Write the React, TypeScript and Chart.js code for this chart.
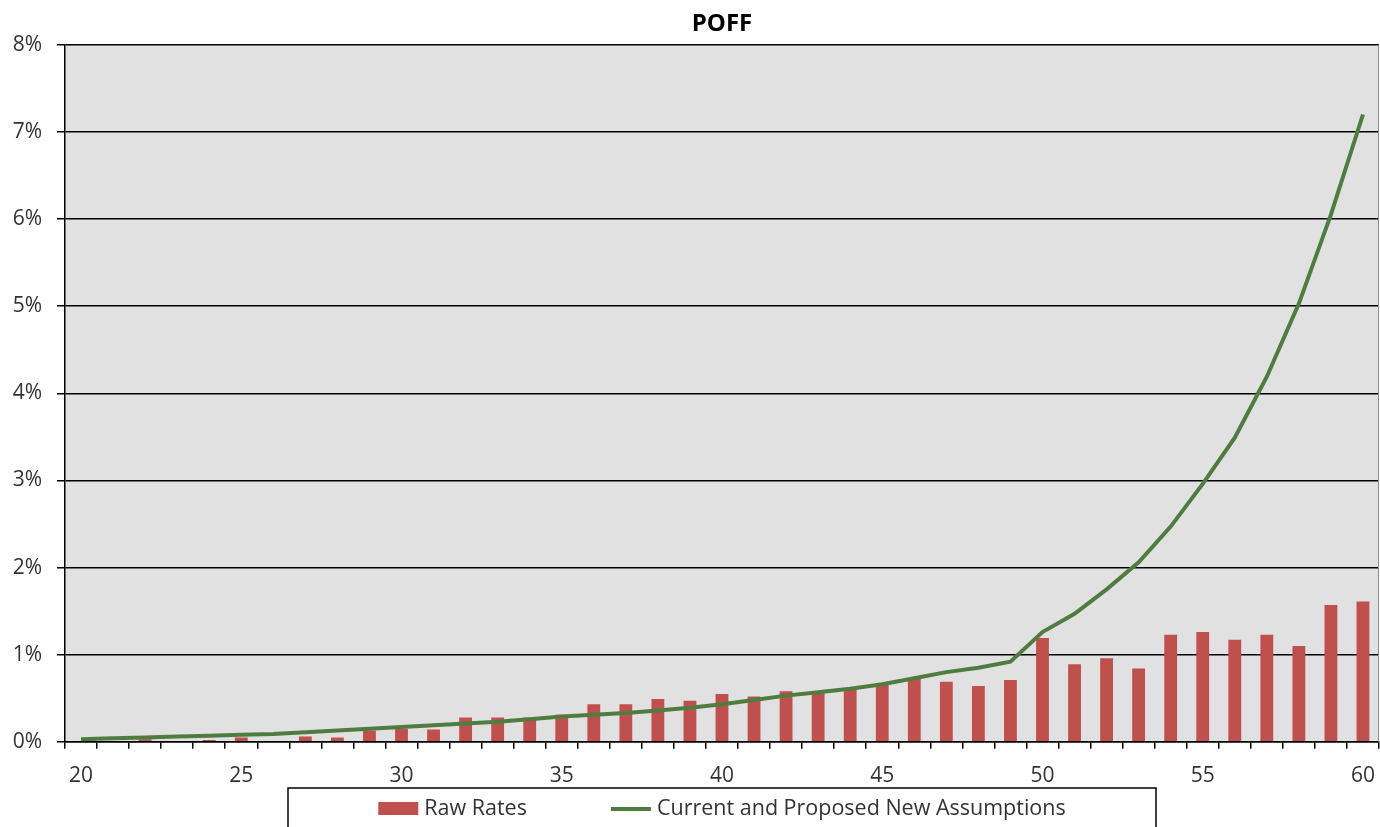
import React, { useEffect, useRef } from 'react';
import { Chart, registerables } from 'chart.js';

Chart.register(...registerables);

const ages: string[] = [
  '20', '21', '22', '23', '24', '25', '26', '27', '28', '29',
  '30', '31', '32', '33', '34', '35', '36', '37', '38', '39',
  '40', '41', '42', '43', '44', '45', '46', '47', '48', '49',
  '50', '51', '52', '53', '54', '55', '56', '57', '58', '59', '60',
];

// Raw Rates (%)
const rawRates: number[] = [
  0, 0, 0.03, 0, 0.02, 0.05, 0, 0.06, 0.05, 0.13,
  0.15, 0.14, 0.28, 0.28, 0.28, 0.31, 0.43, 0.43, 0.49, 0.47,
  0.55, 0.52, 0.58, 0.57, 0.61, 0.66, 0.73, 0.69, 0.64, 0.71,
  1.19, 0.89, 0.96, 0.84, 1.23, 1.26, 1.17, 1.23, 1.10, 1.57, 1.61,
];

// Current and Proposed New Assumptions (%)
const assumptions: number[] = [
  0.03, 0.04, 0.05, 0.06, 0.07, 0.08, 0.09, 0.11, 0.13, 0.15,
  0.17, 0.19, 0.21, 0.23, 0.26, 0.29, 0.31, 0.33, 0.36, 0.39,
  0.43, 0.48, 0.53, 0.57, 0.61, 0.66, 0.73, 0.80, 0.85, 0.92,
  1.26, 1.47, 1.75, 2.06, 2.47, 2.96, 3.49, 4.19, 5.03, 6.05, 7.2,
];

const yMin = 0;
const yMax = 8;
const yStep = 1;

const titleText = 'POFF';
const barLabel = 'Raw Rates';
const lineLabel = 'Current and Proposed New Assumptions';

const barColor = '#c0504d';
const lineColor = '#4f7d40';
const plotBg = '#e1e1e1';
const textColor = '#333333';
const fontFamily = "'Open Sans', 'DejaVu Sans', sans-serif";

const plotBackground = {
  id: 'plotBackground',
  beforeDraw(chart: any) {
    const { ctx, chartArea } = chart;
    ctx.save();
    ctx.fillStyle = plotBg;
    ctx.fillRect(chartArea.left, chartArea.top, chartArea.right - chartArea.left, chartArea.bottom - chartArea.top);
    ctx.restore();
  },
  afterDraw(chart: any) {
    const { ctx, chartArea } = chart;
    ctx.save();
    ctx.strokeStyle = '#8c8c8c';
    ctx.lineWidth = 1;
    ctx.beginPath();
    ctx.moveTo(chartArea.right - 0.5, chartArea.top);
    ctx.lineTo(chartArea.right - 0.5, chartArea.bottom);
    ctx.stroke();
    ctx.restore();
  },
};

const boxedLegend = {
  id: 'boxedLegend',
  afterDraw(chart: any) {
    const { ctx, chartArea } = chart;
    const center = (chartArea.left + chartArea.right) / 2;
    const boxW = 868;
    const boxTop = 788;
    const midY = 808.5;
    ctx.save();
    ctx.font = `21.5px ${fontFamily}`;
    const wRaw = ctx.measureText(barLabel).width;
    const wCur = ctx.measureText(lineLabel).width;
    const swatchW = 40;
    const gapText = 6;
    const gapItems = 84;
    const total = swatchW + gapText + wRaw + gapItems + swatchW + gapText + wCur;
    let x = center - total / 2;

    // border
    ctx.strokeStyle = '#000';
    ctx.lineWidth = 1.5;
    ctx.strokeRect(center - boxW / 2, boxTop, boxW, 80);

    // bar swatch
    ctx.fillStyle = barColor;
    ctx.fillRect(x, midY - 6.5, swatchW, 13);
    x += swatchW + gapText;
    ctx.fillStyle = textColor;
    ctx.textBaseline = 'middle';
    ctx.textAlign = 'left';
    ctx.fillText(barLabel, x, midY);
    x += wRaw + gapItems;

    // line swatch
    ctx.strokeStyle = lineColor;
    ctx.lineWidth = 4;
    ctx.beginPath();
    ctx.moveTo(x, midY + 0.5);
    ctx.lineTo(x + swatchW, midY + 0.5);
    ctx.stroke();
    x += swatchW + gapText;
    ctx.fillStyle = textColor;
    ctx.fillText(lineLabel, x, midY);
    ctx.restore();
  },
};

export default function App() {
  const canvasRef = useRef<HTMLCanvasElement | null>(null);

  useEffect(() => {
    if (!canvasRef.current) return;
    const chart = new Chart(canvasRef.current, {
      type: 'bar',
      data: {
        labels: ages,
        datasets: [
          {
            type: 'line',
            label: lineLabel,
            data: assumptions,
            borderColor: lineColor,
            backgroundColor: lineColor,
            borderWidth: 4,
            pointRadius: 0,
            tension: 0,
            order: 0,
          } as any,
          {
            type: 'bar',
            label: barLabel,
            data: rawRates,
            backgroundColor: barColor,
            barPercentage: 0.4,
            categoryPercentage: 1.0,
            order: 1,
          } as any,
        ],
      },
      options: {
        animation: false,
        responsive: true,
        maintainAspectRatio: false,
        layout: { padding: { left: 13, right: 1, top: 0, bottom: 23 } },
        plugins: {
          legend: { display: false },
          tooltip: { enabled: false },
          title: {
            display: true,
            text: titleText,
            fullSize: false,
            color: '#000',
            font: { family: fontFamily, size: 24, weight: 'bold' },
            padding: { top: 10, bottom: 6 },
          },
        },
        scales: {
          x: {
            offset: true,
            afterFit: (scale: any) => {
              scale.paddingLeft = 0;
              scale.paddingRight = 0;
            },
            grid: {
              display: true,
              drawOnChartArea: false,
              drawTicks: true,
              tickLength: 7,
              color: '#000',
              lineWidth: 1.5,
              offset: true,
            },
            border: { display: true, color: '#000', width: 1.5 },
            ticks: {
              autoSkip: false,
              maxRotation: 0,
              minRotation: 0,
              padding: 15,
              color: textColor,
              font: { family: fontFamily, size: 21 },
              callback: (_v: any, idx: number) => (Number(ages[idx]) % 5 === 0 ? ages[idx] : ''),
            },
          },
          y: {
            min: yMin,
            max: yMax,
            afterFit: (scale: any) => {
              scale.width = 52;
            },
            grid: { color: '#000', lineWidth: 1.5, drawTicks: true, tickLength: 8 },
            border: { display: true, color: '#000', width: 1.5 },
            ticks: {
              stepSize: yStep,
              padding: 15,
              color: textColor,
              font: { family: fontFamily, size: 21 },
              callback: (v: any) => `${v}%`,
            },
          },
        },
      },
      plugins: [plotBackground, boxedLegend],
    });
    return () => chart.destroy();
  }, []);

  return (
    <div style={{ position: 'absolute', left: 0, top: 0, width: 1380, height: 827, overflow: 'hidden', background: '#fff' }}>
      <canvas ref={canvasRef} />
    </div>
  );
}
